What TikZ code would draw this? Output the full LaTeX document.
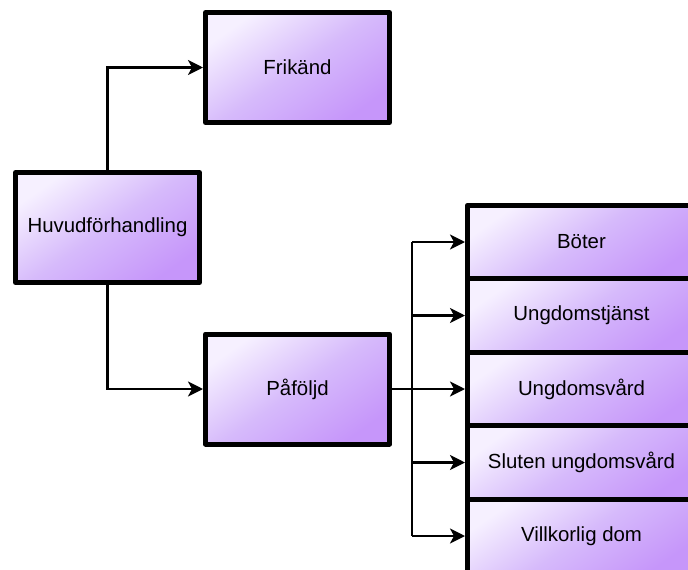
\documentclass[tikz,border=0pt]{standalone}
\usepackage{fontspec}
\setmainfont{Liberation Sans}
\usepackage{tikz}
\usetikzlibrary{positioning,calc,arrows.meta}
\definecolor{boxlight}{RGB}{246,240,255}
\definecolor{boxmid}{RGB}{214,186,251}
\definecolor{boxdark}{RGB}{198,150,250}

\begin{document}
\begin{tikzpicture}[x=1pt,y=1pt]
            \tikzstyle{stage}=[draw=black, line width=5pt, line join=round, shading=axis, top color=boxlight, bottom color=boxdark, middle color=boxmid, shading angle=35, minimum width=184pt, minimum height=110pt, font=\fontsize{20.4}{24}\selectfont]
            \tikzstyle{outcome}=[stage, minimum width=228pt, minimum height=73.5pt]
            \tikzstyle{flow}=[line width=2.5pt, -{Stealth[length=15pt,width=15pt,inset=4pt]}]

            \useasboundingbox (0,0) rectangle (688,-570);

            \node[stage] (huvud) at (107.5,-227.5) {Huvudförhandling};
            \node[stage, above right=45pt and 1pt of huvud] (frikand) {Frikänd};
            \node[stage, below right=46.5pt and 1pt of huvud] (pafoljd) {Påföljd};

            \node[outcome, right=73pt of pafoljd] (ungdomsvard) {Ungdomsvård};
            \node[outcome, above=-5pt of ungdomsvard] (ungdomstjanst) {Ungdomstjänst};
            \node[outcome, above=-5pt of ungdomstjanst] (boter) {Böter};
            \node[outcome, below=-5pt of ungdomsvard] (sluten) {Sluten ungdomsvård};
            \node[outcome, below=-5pt of sluten] (villkorlig) {Villkorlig dom};
            \coordinate[right=20pt of pafoljd] (split);

            \draw[flow] (huvud.north) |- (frikand.west);
            \draw[flow] (huvud.south) |- (pafoljd.west);
            \draw[line width=2.5pt] (pafoljd.east) -- (split);
            \draw[line width=2.5pt] (split |- boter) -- (split |- villkorlig);
            \foreach \n in {boter,ungdomstjanst,ungdomsvard,sluten,villkorlig}
                \draw[flow] (split |- \n) -- (\n.west);
        \end{tikzpicture}
\end{document}
